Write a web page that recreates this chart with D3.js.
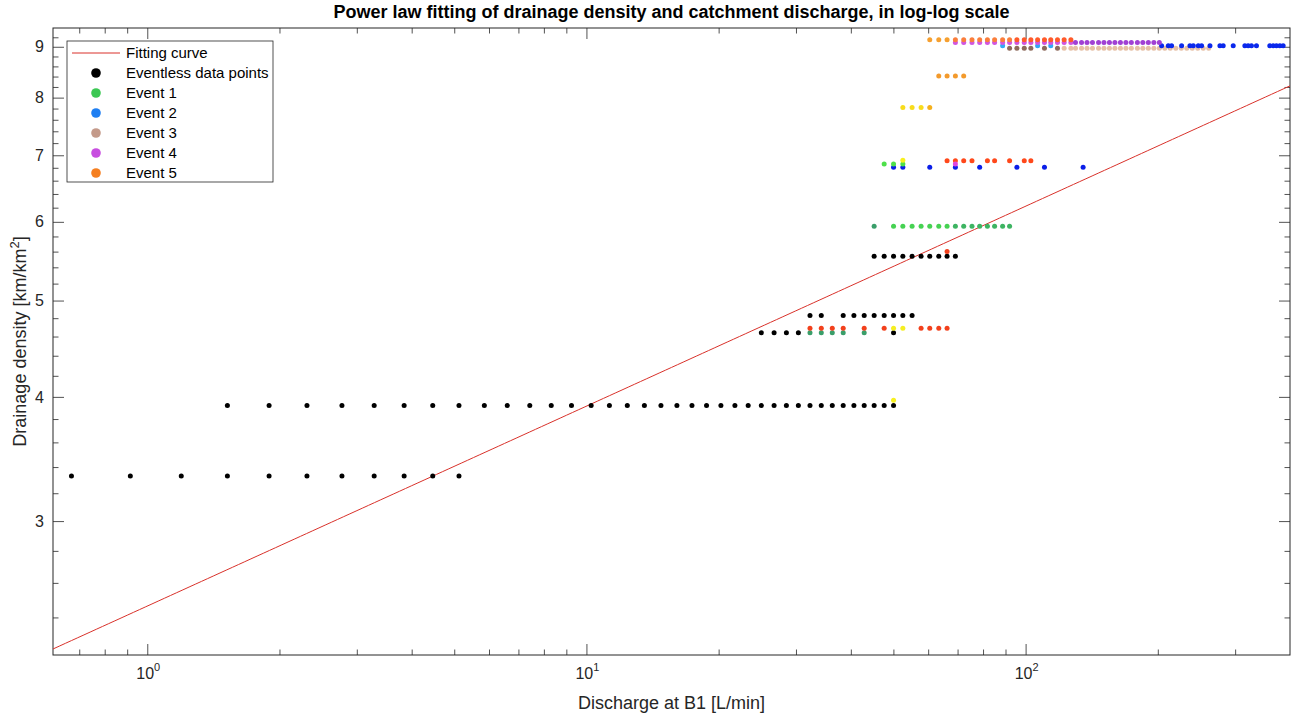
<!DOCTYPE html>
<html>
<head>
<meta charset="utf-8">
<script src="https://cdnjs.cloudflare.com/ajax/libs/d3/7.8.5/d3.min.js"></script>
<style>
  body { margin: 0; background: #fff; }
  svg { font-family: "Liberation Sans", Arial, sans-serif; }
</style>
</head>
<body>
<div id="chart"></div>
<script>
// ---- data ----
const xLimits = [0.61, 400];
const yLimits = [2.2, 9.4];
const xMajorTicks = [1, 10, 100];
const yMajorTicks = [3, 4, 5, 6, 7, 8, 9];
const fitA = 2.464, fitB = 0.2011; // D = a * Q^b

const legendLabels = ["Fitting curve", "Eventless data points", "Event 1", "Event 2", "Event 3", "Event 4", "Event 5"];

// rows of points : density (km/km2) and discharge values (L/min)
const eventlessRows = [
  { d: 3.33, q: [0.672, 0.915, 1.195, 1.522, 1.894, 2.31, 2.775, 3.286, 3.845, 4.467, 5.126] },
  { d: 3.92, q: [1.522, 1.894, 2.31, 2.775, 3.286, 3.845, 4.467, 5.126, 5.855, 6.603, 7.43, 8.315, 9.246,
                 10.25, 11.28, 12.39, 13.55, 14.78, 16.07, 17.39, 18.77, 20.24, 21.78, 23.35, 25.02, 26.75,
                 28.53, 30.38, 32.29, 34.26, 36.29, 38.43, 40.65, 42.9, 45.2, 47.64, 50.04] },
  { d: 4.64, q: [25.02, 26.75, 28.53, 30.38, 50.04] },
  { d: 4.83, q: [32.29, 34.26, 38.43, 40.65, 42.9, 45.2, 47.64, 50.04, 52.54, 55.15] },
  { d: 5.54, q: [45.2, 47.64, 50.04, 52.54, 55.15, 57.81, 60.5, 63.43, 66.25, 69.2] }
];

const event1Rows = [
  { d: 4.64, q: [32.29, 34.26, 36.29, 38.43, 42.9] },
  { d: 5.94, q: [45.2] },
  { d: 5.94, q: [50.04, 52.54, 55.15, 57.81, 60.5, 63.43, 66.25] },
  { d: 5.94, q: [69.2, 72.29, 75.5, 78.6, 81.85, 85.0, 88.65, 91.95] },
  { d: 6.86, q: [47.64, 50.04, 52.54] }
];

const event2Rows = [
  { d: 6.81, q: [50.04, 52.54, 60.5, 69.2, 78.6, 95.54, 110.4, 135.2] },
  { d: 9.02, q: [88.65, 106.5, 114.1] },
  { d: 9.02, q: [204.0, 211.3, 215.0, 226.6, 236.7, 240.9, 247.3, 251.6, 262.9, 277.0, 281.8, 297.0,
                 315.7, 321.2, 326.8, 335.5, 359.8, 366.2, 372.5, 379.3, 385.9] }
];

const event3Rows = [
  { d: 8.97, q: [91.95, 95.54, 99.3, 102.8, 110.4, 118.2] },
  { d: 8.97, q: [122.4, 126.8, 129.9, 134.1, 138.0, 142.0, 146.6, 150.8, 155.2, 159.7, 164.4, 169.2,
                 174.1, 179.7, 184.9, 190.3, 195.9, 201.6, 207.5, 213.5, 219.8, 226.2, 232.8, 239.6,
                 246.6, 253.8, 261.2] }
];

const event4Rows = [
  { d: 6.86, q: [69.2] },
  { d: 9.09, q: [69.2, 72.29, 75.5, 78.6, 81.85, 85.0, 88.65, 91.95, 95.54, 99.3, 102.8, 106.5, 110.4,
                 114.1, 118.2, 122.4, 126.8] },
  { d: 9.09, q: [129.9, 134.1, 138.0, 142.0, 146.6, 150.8, 155.2, 159.7, 164.4, 169.2, 174.1, 179.7,
                 184.9, 190.3, 195.9, 201.6] }
];

const event5Rows = [
  { d: 3.97, q: [50.04] },
  { d: 4.69, q: [32.29, 34.26, 36.29, 38.43, 42.9, 47.64, 57.81, 60.5, 63.43, 66.25] },
  { d: 4.69, q: [50.04, 52.54] },
  { d: 5.60, q: [66.25] },
  { d: 6.91, q: [66.25, 69.2, 72.29, 75.5, 81.85, 85.0, 91.95, 99.3, 102.8] },
  { d: 6.92, q: [52.54] },
  { d: 7.82, q: [52.54, 55.15, 57.81] },
  { d: 7.82, q: [60.5] },
  { d: 8.41, q: [63.43, 66.25, 69.2, 72.29] },
  { d: 9.15, q: [60.5, 63.43, 66.25] },
  { d: 9.15, q: [69.2, 72.29, 75.5, 78.6, 81.85, 85.0, 88.65, 91.95] },
  { d: 9.15, q: [95.54, 99.3, 102.8, 106.5, 110.4, 114.1, 118.2, 122.4, 126.8] }
];

// ---- styles ----
const legendColors = ["#d9312a", "#000000", "#3cc854", "#1f7ff2", "#c49a8a", "#c84ee0", "#f57f20"];
const eventlessColors = ["#000", "#000", "#000", "#000", "#000"];
const event1Colors = ["#3a9e6a", "#3a9e6a", "#46d252", "#3db462", "#4ee04a"];
const event2Colors = ["#0a1ee8", "#33a8f5", "#0a28ec"];
const event3Colors = ["#8e6a5c", "#e6c0a6"];
const event4Colors = ["#e046e0", "#d056e0", "#a040d4"];
const event5Colors = ["#f7f020", "#f2401c", "#f5ee22", "#f2401c", "#ff481a", "#f8f01e",
                      "#f8dc1c", "#f5b01c", "#f39a2c", "#f6a030", "#fa7e3c", "#ff5a2a"];

// ---- layout ----
const W = 1300, H = 716;
const margin = { left: 53, right: 10, top: 28, bottom: 61 };
const pw = W - margin.left - margin.right;
const ph = H - margin.top - margin.bottom;
const ink = "#262626";

const svg = d3.select("#chart").append("svg")
  .attr("width", W).attr("height", H);

const x = d3.scaleLog().domain(xLimits).range([0, pw]);
const y = d3.scaleLog().domain(yLimits).range([ph, 0]);

const g = svg.append("g").attr("transform", `translate(${margin.left},${margin.top})`);

// minor ticks
const xMinor = [];
[-1, 0, 1, 2].forEach(e => {
  for (let k = 2; k <= 9; k++) {
    const v = k * Math.pow(10, e);
    if (v > xLimits[0] * 1.001 && v < xLimits[1] * 0.999) xMinor.push(v);
  }
});
const yMinor = d3.range(2.4, 9.35, 0.2).map(v => +v.toFixed(1)).filter(v => !yMajorTicks.includes(v));

const majLen = 11, minLen = 5.5;

function styleAxis(sel) {
  sel.select(".domain").remove();
  sel.selectAll("line").attr("stroke", ink).attr("stroke-width", 0.8);
  sel.selectAll("text").attr("fill", ink);
}

// bottom / top
g.append("g").attr("transform", `translate(0,${ph})`)
  .call(d3.axisBottom(x).tickValues(xMajorTicks).tickSize(-majLen).tickFormat(""))
  .call(styleAxis);
g.append("g").attr("transform", `translate(0,${ph})`)
  .call(d3.axisBottom(x).tickValues(xMinor).tickSize(-minLen).tickFormat(""))
  .call(styleAxis);
g.append("g")
  .call(d3.axisTop(x).tickValues(xMajorTicks).tickSize(-majLen).tickFormat(""))
  .call(styleAxis);
g.append("g")
  .call(d3.axisTop(x).tickValues(xMinor).tickSize(-minLen).tickFormat(""))
  .call(styleAxis);

// left / right
g.append("g")
  .call(d3.axisLeft(y).tickValues(yMajorTicks).tickSize(-majLen).tickPadding(9).tickFormat(d3.format("d")))
  .call(styleAxis)
  .selectAll("text").attr("font-size", 16);
g.append("g")
  .call(d3.axisLeft(y).tickValues(yMinor).tickSize(-minLen).tickFormat(""))
  .call(styleAxis);
g.append("g").attr("transform", `translate(${pw},0)`)
  .call(d3.axisRight(y).tickValues(yMajorTicks).tickSize(-majLen).tickFormat(""))
  .call(styleAxis);
g.append("g").attr("transform", `translate(${pw},0)`)
  .call(d3.axisRight(y).tickValues(yMinor).tickSize(-minLen).tickFormat(""))
  .call(styleAxis);

// x tick labels 10^n
xMajorTicks.forEach(v => {
  const t = g.append("text")
    .attr("x", x(v) + 1).attr("y", ph + 24)
    .attr("text-anchor", "middle").attr("fill", ink).attr("font-size", 16);
  t.append("tspan").text("10");
  t.append("tspan").attr("dy", -8).attr("font-size", 11).text(Math.round(Math.log10(v)));
});

// box
g.append("rect").attr("width", pw).attr("height", ph)
  .attr("fill", "none").attr("stroke", ink).attr("stroke-width", 1);

// fitting curve
const fitQ = d3.range(0, 201).map(i => xLimits[0] * Math.pow(xLimits[1] / xLimits[0], i / 200));
g.append("path")
  .datum(fitQ)
  .attr("fill", "none").attr("stroke", legendColors[0]).attr("stroke-width", 1)
  .attr("d", d3.line().x(q => x(q)).y(q => y(fitA * Math.pow(q, fitB))));

// points
const pts = g.append("g");
function drawRows(rows, colors) {
  rows.forEach((row, i) => {
    pts.append("g").selectAll("circle")
      .data(row.q)
      .join("circle")
      .attr("cx", q => x(q))
      .attr("cy", y(row.d))
      .attr("r", 2.5)
      .attr("fill", colors[i]);
  });
}
drawRows(eventlessRows, eventlessColors);
drawRows(event2Rows.slice(0, 1), event2Colors.slice(0, 1));
drawRows(event1Rows, event1Colors);
drawRows(event5Rows.slice(0, 8), event5Colors.slice(0, 8));
drawRows(event4Rows.slice(0, 1), event4Colors.slice(0, 1));
drawRows(event5Rows.slice(8, 9), event5Colors.slice(8, 9));
drawRows(event3Rows, event3Colors);
drawRows(event2Rows.slice(1), event2Colors.slice(1));
drawRows(event4Rows.slice(1), event4Colors.slice(1));
drawRows(event5Rows.slice(9), event5Colors.slice(9));

// legend
const lg = svg.append("g").attr("transform", "translate(67,41)");
lg.append("rect").attr("width", 206).attr("height", 141)
  .attr("fill", "#fff").attr("stroke", ink).attr("stroke-width", 0.8);
legendLabels.forEach((lab, i) => {
  const cy = 12 + i * 20;
  if (i === 0) {
    lg.append("line").attr("x1", 5).attr("x2", 53).attr("y1", cy).attr("y2", cy)
      .attr("stroke", legendColors[0]).attr("stroke-width", 1);
  } else {
    lg.append("circle").attr("cx", 29).attr("cy", cy).attr("r", 4.8).attr("fill", legendColors[i]);
  }
  lg.append("text").attr("x", 59).attr("y", cy).attr("dy", "0.36em")
    .attr("font-size", 15).attr("fill", "#000").text(lab);
});

// title & axis labels
svg.append("text")
  .attr("x", margin.left + pw / 2).attr("y", 18)
  .attr("text-anchor", "middle").attr("font-weight", "bold").attr("font-size", 18)
  .attr("fill", "#000")
  .text("Power law fitting of drainage density and catchment discharge, in log-log scale");

svg.append("text")
  .attr("x", margin.left + pw / 2).attr("y", 709)
  .attr("text-anchor", "middle").attr("font-size", 18).attr("fill", ink)
  .text("Discharge at B1 [L/min]");

const yl = svg.append("text")
  .attr("transform", `translate(26,${margin.top + ph / 2}) rotate(-90)`)
  .attr("text-anchor", "middle").attr("font-size", 18).attr("fill", ink);
yl.append("tspan").text("Drainage density [km/km");
yl.append("tspan").attr("dy", -7).attr("font-size", 13).text("2");
yl.append("tspan").attr("dy", 7).text("]");
</script>
</body>
</html>
